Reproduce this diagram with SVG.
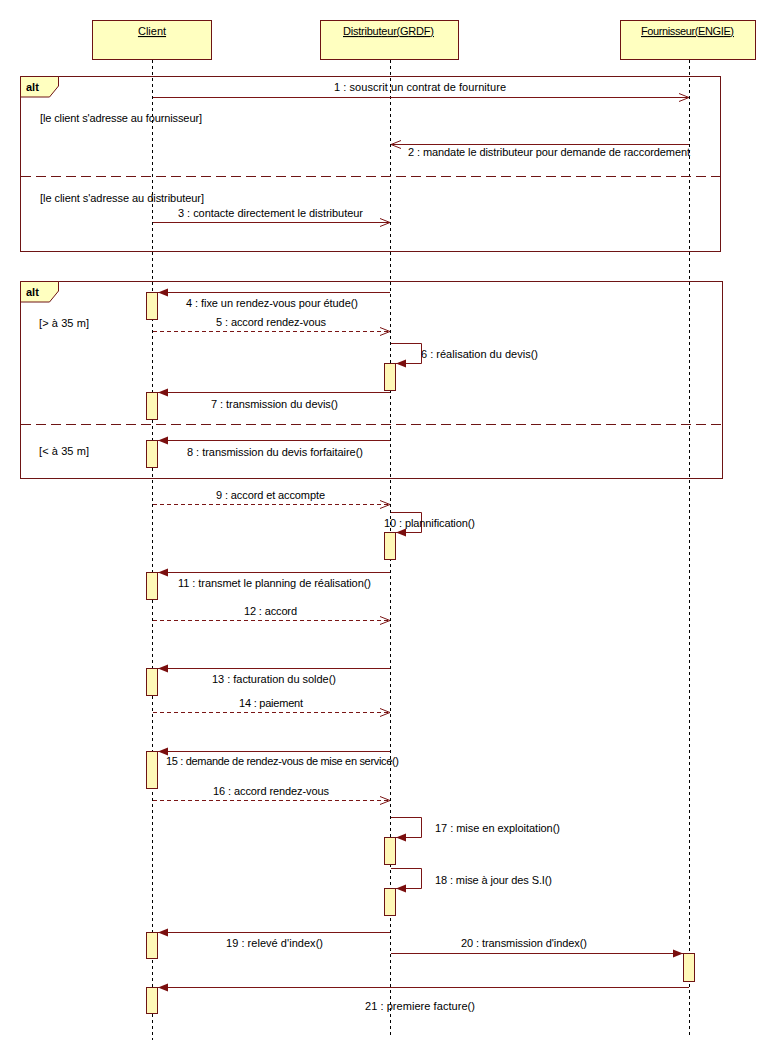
<svg xmlns="http://www.w3.org/2000/svg" width="775" height="1064" viewBox="0 0 775 1064">
<style>
text{font-family:"Liberation Sans",Arial,sans-serif;font-size:11px;fill:#000}
.hdr{fill:#ffffc0;stroke:#6e1414;stroke-width:1}
.act{fill:#fff8b8;stroke:#6e1414;stroke-width:1}
.life{stroke:#000;stroke-width:1;stroke-dasharray:3,3;fill:none}
.frame{fill:none;stroke:#6e1414;stroke-width:1}
.tab{fill:#ffffc0;stroke:#6e1414;stroke-width:1}
.sep{stroke:#6e1414;stroke-width:1;stroke-dasharray:10,5}
.msg{stroke:#7a1515;stroke-width:1;fill:none}
.call{marker-end:url(#filled)}
.sig{marker-end:url(#open)}
.ret{stroke-dasharray:4,3;marker-end:url(#open)}
.u{text-decoration:underline}
.b{font-weight:bold}
</style>
<defs>
<marker id="filled" markerUnits="userSpaceOnUse" markerWidth="12" markerHeight="10" refX="11" refY="4.5" orient="auto">
<path d="M1,0.5 L11,4.5 L1,8.5 z" fill="#7a0e0e" stroke="none"/>
</marker>
<marker id="open" markerUnits="userSpaceOnUse" markerWidth="12" markerHeight="10" refX="11" refY="4.5" orient="auto">
<path d="M1,0.5 L11,4.5 L1,8.5" fill="none" stroke="#7a1515" stroke-width="1"/>
</marker>
</defs>

<!-- lifelines / participants -->
<g id="client">
<rect class="hdr" x="92.5" y="20.5" width="119" height="39"/>
<text class="u" x="152" y="35" text-anchor="middle">Client</text>
<line class="life" x1="152.5" y1="60" x2="152.5" y2="1040"/>
</g>
<g id="distributeur">
<rect class="hdr" x="320.5" y="20.5" width="138" height="39"/>
<text class="u" x="343" y="35" textLength="91">Distributeur(GRDF)</text>
<line class="life" x1="390.5" y1="60" x2="390.5" y2="1038"/>
</g>
<g id="fournisseur">
<rect class="hdr" x="620.5" y="20.5" width="135" height="39"/>
<text class="u" x="641" y="35" textLength="93">Fournisseur(ENGIE)</text>
<line class="life" x1="689.5" y1="60" x2="689.5" y2="1036"/>
</g>

<!-- combined fragments -->
<g id="alt1">
<rect class="frame" x="20.5" y="76.5" width="700" height="175"/>
<path class="tab" d="M20.5,76.5 H58.5 V86 L49.5,97 H20.5 z"/>
<text class="b" x="26" y="91">alt</text>
<text x="40" y="122" textLength="162">[le client s'adresse au fournisseur]</text>
<line class="sep" x1="21" y1="176.5" x2="720" y2="176.5"/>
<text x="40" y="202" textLength="164">[le client s'adresse au distributeur]</text>
</g>
<g id="alt2">
<rect class="frame" x="20.5" y="281.5" width="702" height="197"/>
<path class="tab" d="M20.5,281.5 H58.5 V291 L49.5,302 H20.5 z"/>
<text class="b" x="26" y="296">alt</text>
<text x="39" y="327" textLength="50">[&gt; à 35 m]</text>
<line class="sep" x1="21" y1="424.5" x2="722" y2="424.5"/>
<text x="39" y="455" textLength="50">[&lt; à 35 m]</text>
</g>

<!-- activations -->
<g id="activations">
<rect class="act" x="146.5" y="292.5" width="11" height="27"/>
<rect class="act" x="384.5" y="363.5" width="11" height="27"/>
<rect class="act" x="146.5" y="392.5" width="11" height="27"/>
<rect class="act" x="146.5" y="440.5" width="11" height="27"/>
<rect class="act" x="384.5" y="532.5" width="11" height="27"/>
<rect class="act" x="146.5" y="572.5" width="11" height="27"/>
<rect class="act" x="146.5" y="668.5" width="11" height="27"/>
<rect class="act" x="146.5" y="751.5" width="11" height="37"/>
<rect class="act" x="384.5" y="837.5" width="11" height="27"/>
<rect class="act" x="384.5" y="888.5" width="11" height="27"/>
<rect class="act" x="146.5" y="932.5" width="11" height="26"/>
<rect class="act" x="683.5" y="953.5" width="11" height="28"/>
<rect class="act" x="146.5" y="987.5" width="11" height="26"/>
</g>

<!-- connectors -->
<g id="connectors">
<line class="msg sig" x1="153" y1="97.5" x2="689" y2="97.5"/>
<line class="msg sig" x1="689" y1="144.5" x2="391" y2="144.5"/>
<line class="msg sig" x1="153" y1="222.5" x2="390" y2="222.5"/>
<line class="msg call" x1="390" y1="292.5" x2="158" y2="292.5"/>
<line class="msg ret" x1="153" y1="331.5" x2="390" y2="331.5"/>
<path class="msg call" d="M391,343.5 H421.5 V363.5 H396"/>
<line class="msg call" x1="390" y1="392.5" x2="158" y2="392.5"/>
<line class="msg call" x1="390" y1="440.5" x2="158" y2="440.5"/>
<line class="msg ret" x1="153" y1="504.5" x2="390" y2="504.5"/>
<path class="msg call" d="M391,512.5 H421.5 V532.5 H396"/>
<line class="msg call" x1="390" y1="572.5" x2="158" y2="572.5"/>
<line class="msg ret" x1="153" y1="620.5" x2="390" y2="620.5"/>
<line class="msg call" x1="390" y1="668.5" x2="158" y2="668.5"/>
<line class="msg ret" x1="153" y1="712.5" x2="390" y2="712.5"/>
<line class="msg call" x1="390" y1="751.5" x2="158" y2="751.5"/>
<line class="msg ret" x1="153" y1="800.5" x2="390" y2="800.5"/>
<path class="msg call" d="M391,817.5 H421.5 V837.5 H396"/>
<path class="msg call" d="M391,868.5 H421.5 V888.5 H396"/>
<line class="msg call" x1="390" y1="932.5" x2="158" y2="932.5"/>
<line class="msg call" x1="391" y1="953.5" x2="683" y2="953.5"/>
<line class="msg call" x1="689" y1="987.5" x2="158" y2="987.5"/>
</g>

<!-- message labels -->
<g id="labels">
<text x="334" y="91" textLength="172">1 : souscrit un contrat de fourniture</text>
<text x="408" y="156" textLength="282">2 : mandate le distributeur pour demande de raccordement</text>
<text x="178" y="217" textLength="185">3 : contacte directement le distributeur</text>
<text x="186" y="307" textLength="172">4 : fixe un rendez-vous pour étude()</text>
<text x="216" y="326" textLength="110">5 : accord rendez-vous</text>
<text x="421" y="358" textLength="117">6 : réalisation du devis()</text>
<text x="211" y="408" textLength="127">7 : transmission du devis()</text>
<text x="187" y="456" textLength="176">8 : transmission du devis forfaitaire()</text>
<text x="216" y="499" textLength="109">9 : accord et accompte</text>
<text x="384" y="527" textLength="91">10 : plannification()</text>
<text x="178" y="587" textLength="193">11 : transmet le planning de réalisation()</text>
<text x="244" y="615" textLength="53">12 : accord</text>
<text x="212" y="683" textLength="124">13 : facturation du solde()</text>
<text x="239" y="707" textLength="64">14 : paiement</text>
<text x="166" y="765" textLength="233">15 : demande de rendez-vous de mise en service()</text>
<text x="213" y="795" textLength="116">16 : accord rendez-vous</text>
<text x="435" y="832" textLength="125">17 : mise en exploitation()</text>
<text x="435" y="884" textLength="117">18 : mise à jour des S.I()</text>
<text x="226" y="947" textLength="97">19 : relevé d'index()</text>
<text x="461" y="947" textLength="126">20 : transmission d'index()</text>
<text x="365" y="1010" textLength="110">21 : premiere facture()</text>
</g>
</svg>
